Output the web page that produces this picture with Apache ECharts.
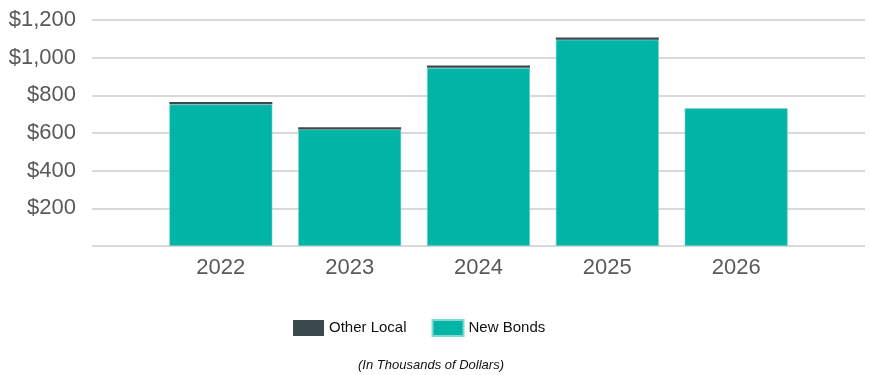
<!DOCTYPE html>
<html>
<head>
<meta charset="utf-8">
<script src="https://cdn.jsdelivr.net/npm/echarts@6/dist/echarts.min.js"></script>
<style>
html,body{margin:0;padding:0;background:#fff;}
#chart{width:870px;height:375px;}
</style>
</head>
<body>
<div id="chart"></div>
<script>
var years = ['2022', '2023', '2024', '2025', '2026'];
var newBonds = [752, 619, 946, 1095, 732];
var otherLocal = [13, 11, 13, 12, 0];
var yTicks = [200, 400, 600, 800, 1000, 1200];

// padded category list: an empty slot on each side of the years
var axisCats = [''].concat(years, ['']);
function pad(arr) { return [null].concat(arr, [null]); }

var chart = echarts.init(document.getElementById('chart'));
var font = '"Liberation Sans", Arial, sans-serif';

chart.setOption({
  animation: false,
  backgroundColor: '#ffffff',
  grid: { left: 92, right: 5, top: 20, bottom: 129 },
  legend: {
    data: ['Other Local', 'New Bonds'],
    left: 288,
    top: 314,
    itemWidth: 31,
    itemHeight: 16,
    itemGap: 25,
    icon: 'rect',
    textStyle: { fontFamily: font, fontSize: 15, color: '#111111' }
  },
  title: {
    text: '(In Thousands of Dollars)',
    left: 426,
    textAlign: 'center',
    top: 354,
    textStyle: { fontFamily: font, fontSize: 13, fontStyle: 'italic', fontWeight: 'normal', color: '#111111' }
  },
  xAxis: {
    type: 'category',
    data: axisCats,
    boundaryGap: false,
    axisLine: { show: false },
    axisTick: { show: false },
    splitLine: { show: false },
    axisLabel: {
      margin: 11,
      interval: 0,
      fontFamily: font,
      fontSize: 22,
      color: '#595959'
    }
  },
  yAxis: {
    type: 'value',
    min: 0,
    max: 1200,
    interval: 200,
    axisLine: { show: false },
    axisTick: { show: false },
    splitLine: { lineStyle: { color: '#d9d9d9', width: 2 } },
    axisLabel: {
      margin: 16,
      fontFamily: font,
      fontSize: 22,
      color: '#595959',
      formatter: function (v) {
        if (yTicks.indexOf(v) < 0) return '';
        return '$' + v.toLocaleString('en-US');
      }
    }
  },
  series: [
    {
      name: 'New Bonds',
      type: 'bar',
      stack: 'total',
      barWidth: 103,
      itemStyle: { color: '#00b5a6', borderColor: '#7fd9d0', borderWidth: 0.6 },
      data: pad(newBonds)
    },
    {
      name: 'Other Local',
      type: 'bar',
      stack: 'total',
      barWidth: 103,
      itemStyle: { color: '#3b484d' },
      data: pad(otherLocal)
    }
  ]
});
</script>
</body>
</html>
